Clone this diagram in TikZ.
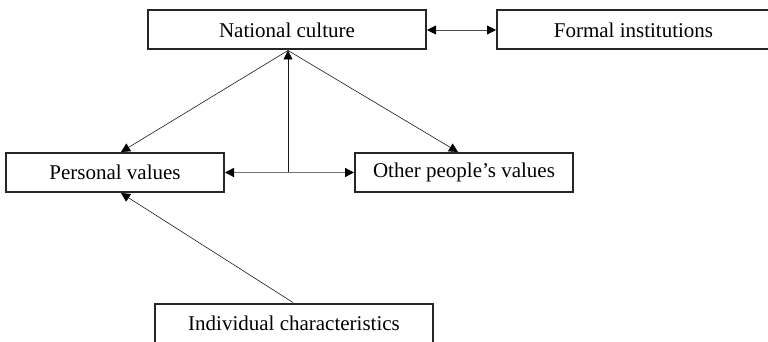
\documentclass[tikz,border=0pt]{standalone}
\usepackage{fontspec}
\setmainfont{Liberation Serif}
\usetikzlibrary{arrows.meta}
\begin{document}
\begin{tikzpicture}[x=1pt,y=-1pt,
  box/.style={draw=black!85,line width=2pt,fill=white,minimum height=39pt,inner sep=0pt,font=\fontsize{21}{24}\selectfont},
  conn/.style={line width=0.6pt,black!90},
  tip/.style={-{Triangle[length=9pt,width=9pt,color=black]}},
  both/.style={{Triangle[length=9pt,width=9pt,color=black]}-{Triangle[length=9pt,width=9pt,color=black]}}]
\useasboundingbox (0,0) rectangle (768,342);
\node[box,minimum width=278pt] (nc) at (287,30) {National culture};
\node[box,minimum width=273pt] (fi) at (633.5,30) {Formal institutions};
\node[box,minimum width=218pt] (pv) at (115,172.5) {Personal values};
\node[box,minimum width=218pt] (opv) at (464,172.5) {Other people’s values};
\node[box,minimum width=278pt] (ic) at (294,323) {Individual characteristics};
\coordinate (j) at (288,172.5);
\draw[both,black!70,line width=0.8pt] (nc.east) -- (fi.west);
\draw[conn,tip] ([xshift=1pt]nc.south) -- ([xshift=6pt]pv.north);
\draw[conn,tip] ([xshift=1pt]nc.south) -- ([xshift=-6pt]opv.north);
\draw[conn,tip] (j) -- (j |- nc.south);
\draw[both,black!55,line width=1.3pt] (pv.east) -- (opv.west);
\draw[conn,tip] ([xshift=-1pt]ic.north) -- ([xshift=6pt]pv.south);
\end{tikzpicture}
\end{document}
